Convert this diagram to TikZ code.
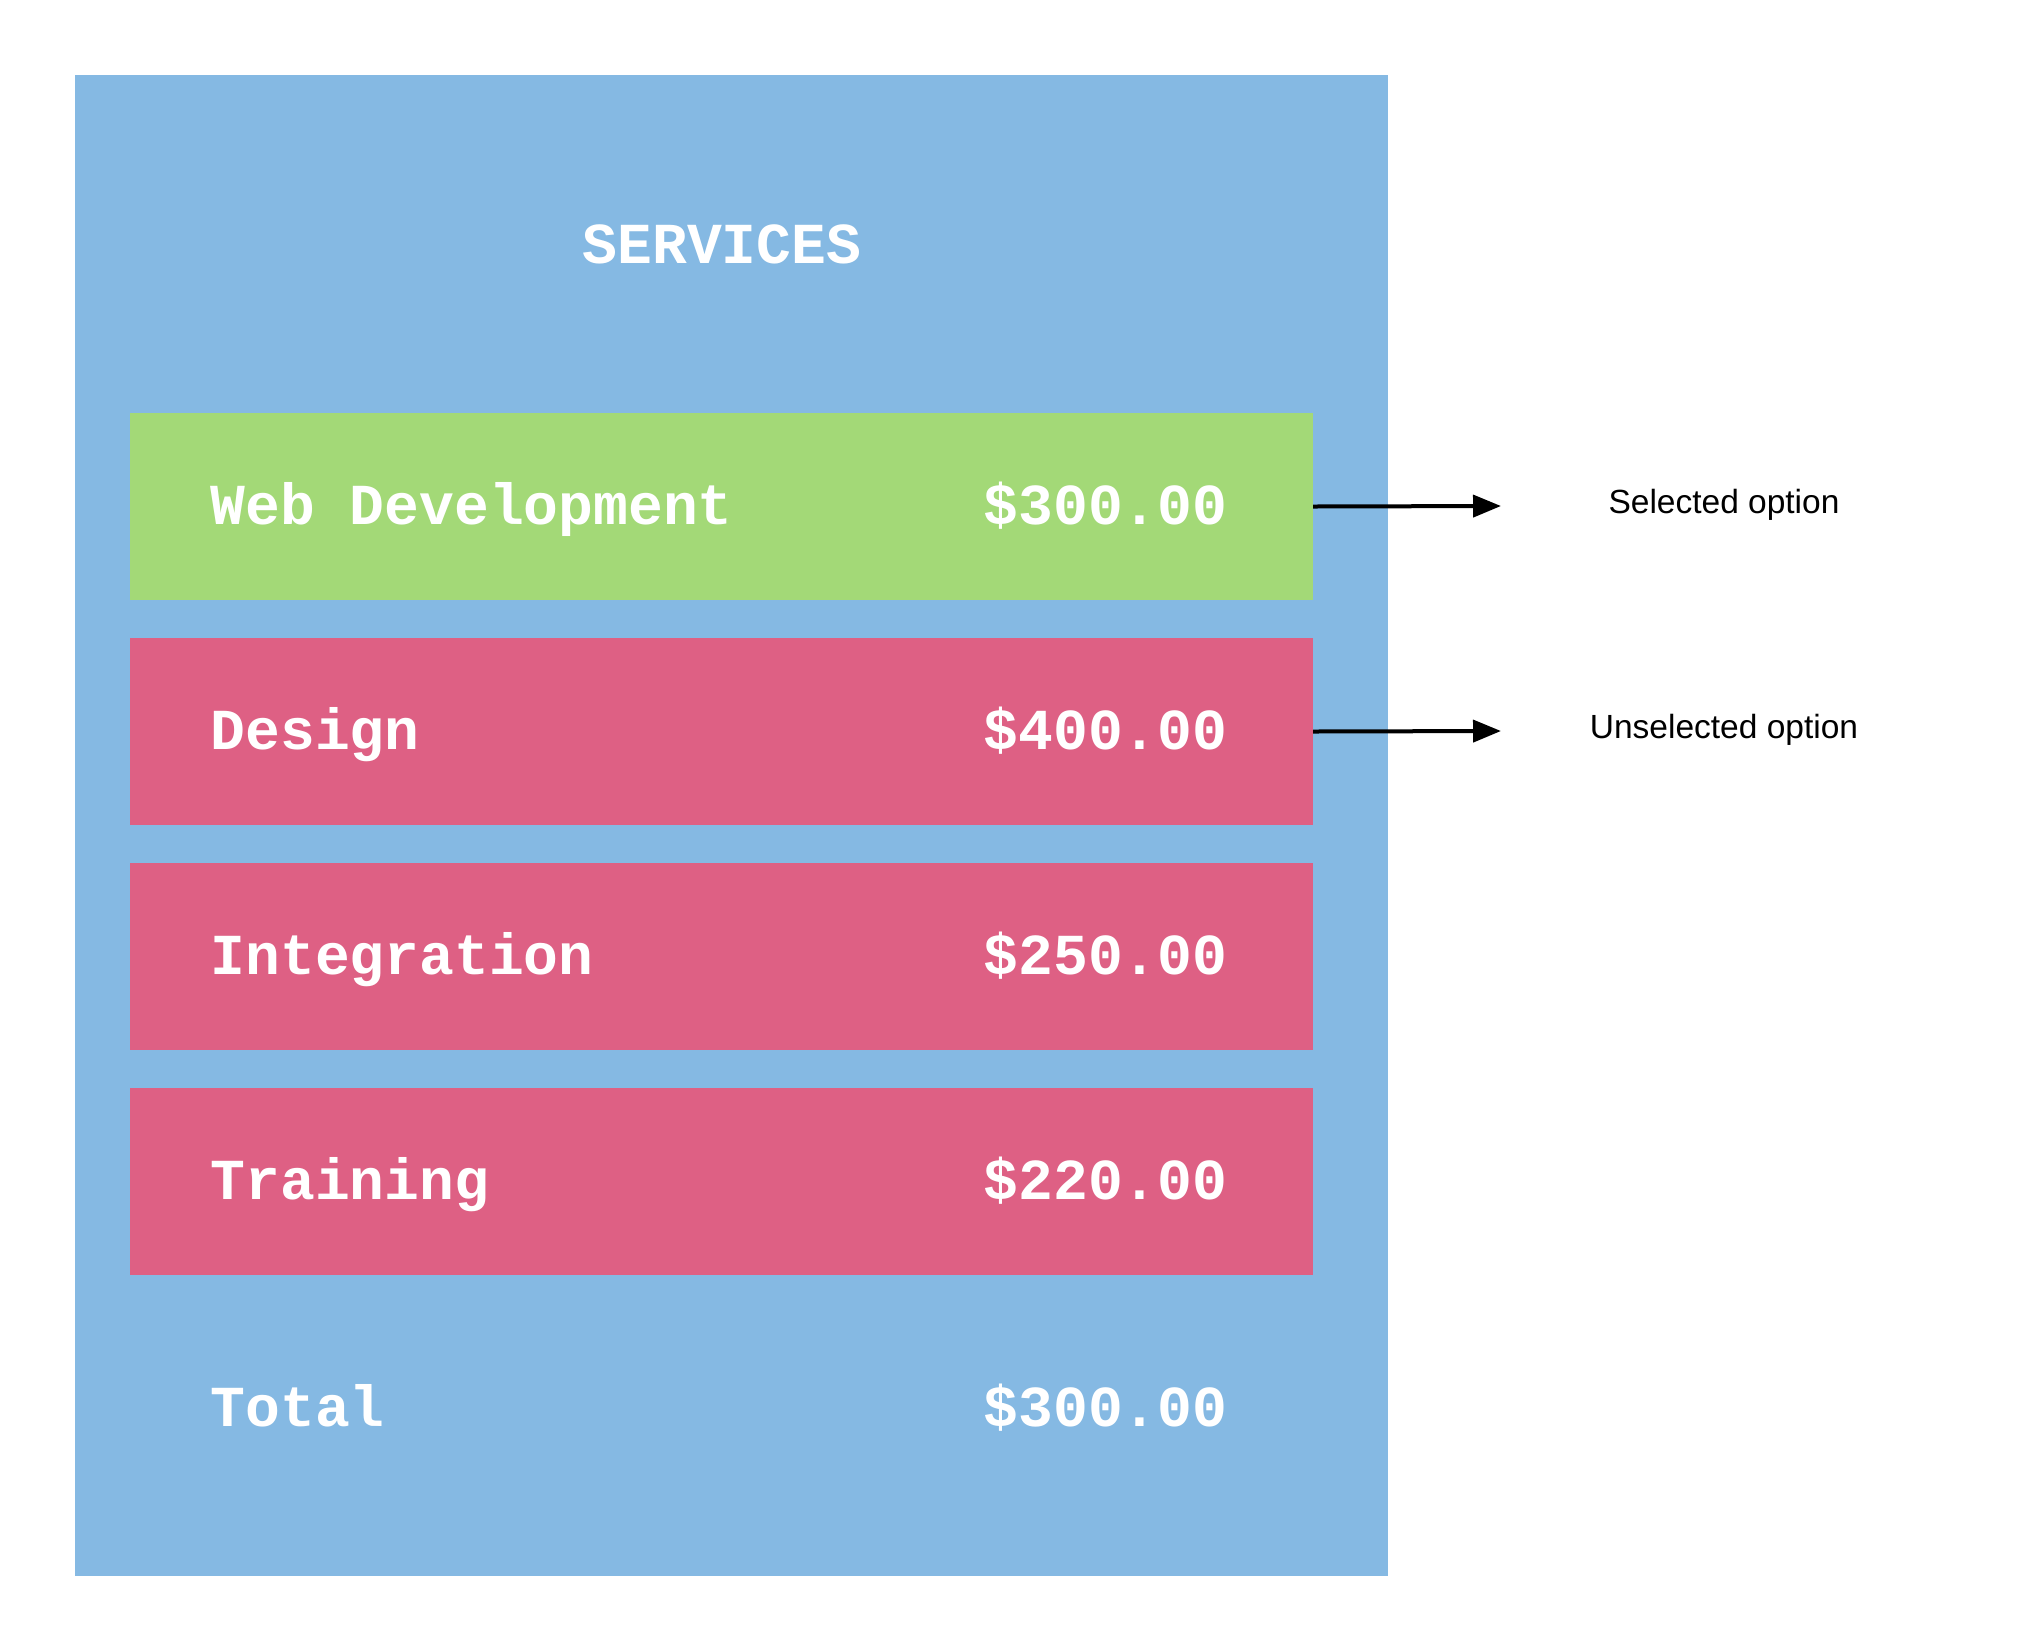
\documentclass[tikz,border=0pt]{standalone}
\usepackage{fontspec}
\setmainfont{Liberation Sans}
\newfontfamily\monob{Liberation Mono}[BoldFont={Liberation Mono Bold}]
\usetikzlibrary{arrows.meta}
\definecolor{panelblue}{RGB}{133,185,227}
\definecolor{selgreen}{RGB}{163,217,119}
\definecolor{unselpink}{RGB}{222,96,132}
\tikzset{
  x=1pt, y=-1pt,
  optbox/.style={minimum width=1183pt, minimum height=187pt, inner sep=0pt, draw=none},
  itemtext/.style={anchor=base west, inner sep=0pt, text=white, font=\monob\bfseries\fontsize{58}{60}\selectfont},
  pricetext/.style={anchor=base east, inner sep=0pt, text=white, font=\monob\bfseries\fontsize{58}{60}\selectfont},
  notetext/.style={anchor=base, inner sep=0pt, font=\fontsize{33.5}{36}\selectfont},
  pointer/.style={line width=4pt, -{Triangle[length=28pt,width=22pt]}}
}
\begin{document}
\begin{tikzpicture}
\useasboundingbox (0,0) rectangle (2025,1650);
\fill[white] (0,0) rectangle (2025,1650);
\node[fill=panelblue, minimum width=1313pt, minimum height=1501pt, inner sep=0pt] (panel) at (731.5,825.5) {};
\node[itemtext, anchor=base] (title) at (722,263) {SERVICES};
\node[optbox, fill=selgreen] (web) at (721.5,506.5) {};
\node[optbox, fill=unselpink] (design) at (721.5,731.5) {};
\node[optbox, fill=unselpink] (integ) at (721.5,956.5) {};
\node[optbox, fill=unselpink] (train) at (721.5,1181) {};
\node[itemtext] (webl) at (210.5,524) {Web Development};
\node[pricetext] (webp) at (1227.5,524) {\$300.00};
\node[itemtext] (desl) at (210.5,749) {Design};
\node[pricetext] (desp) at (1227.5,749) {\$400.00};
\node[itemtext] (intl) at (210.5,974) {Integration};
\node[pricetext] (intp) at (1227.5,974) {\$250.00};
\node[itemtext] (trl) at (210.5,1199) {Training};
\node[pricetext] (trp) at (1227.5,1199) {\$220.00};
\node[itemtext] (totl) at (210.5,1426) {Total};
\node[pricetext] (totp) at (1227.5,1426) {\$300.00};
\coordinate (selend) at (1501,506);
\coordinate (unselend) at (1501,731);
\draw[pointer] (web.east) -- (selend);
\draw[pointer] (design.east) -- (unselend);
\node[notetext] (sel) at (1724,513) {Selected option};
\node[notetext] (unsel) at (1724,738) {Unselected option};
\end{tikzpicture}
\end{document}
